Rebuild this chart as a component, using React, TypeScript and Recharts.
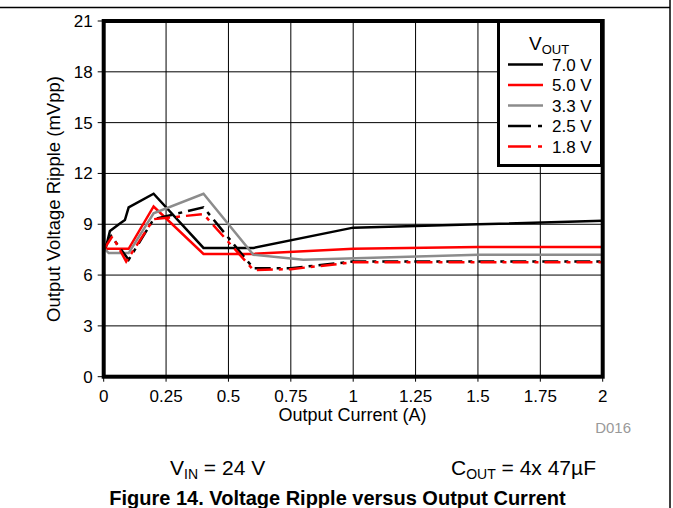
import React from 'react';
import { LineChart, Line, XAxis, YAxis, CartesianGrid, Legend } from 'recharts';

const xTicks = [0, 0.25, 0.5, 0.75, 1, 1.25, 1.5, 1.75, 2];
const yTicks = [0, 3, 6, 9, 12, 15, 18, 21];

const v70 = [
  { x: 0, y: 7.4 }, { x: 0.01, y: 7.7 }, { x: 0.025, y: 8.6 }, { x: 0.065, y: 9.05 },
  { x: 0.085, y: 9.25 }, { x: 0.1, y: 10.0 }, { x: 0.2, y: 10.8 }, { x: 0.4, y: 7.6 },
  { x: 0.6, y: 7.6 }, { x: 1.0, y: 8.8 }, { x: 1.5, y: 9.0 }, { x: 2.0, y: 9.2 },
];
const v50 = [
  { x: 0, y: 7.55 }, { x: 0.1, y: 7.55 }, { x: 0.2, y: 10.05 }, { x: 0.4, y: 7.25 },
  { x: 0.6, y: 7.25 }, { x: 1.0, y: 7.55 }, { x: 1.5, y: 7.65 }, { x: 2.0, y: 7.65 },
];
const v33 = [
  { x: 0, y: 7.6 }, { x: 0.02, y: 7.3 }, { x: 0.1, y: 7.3 }, { x: 0.2, y: 9.65 },
  { x: 0.4, y: 10.8 }, { x: 0.6, y: 7.2 }, { x: 0.8, y: 6.9 }, { x: 1.5, y: 7.2 }, { x: 2.0, y: 7.2 },
];
const v25 = [
  { x: 0, y: 7.5 }, { x: 0.03, y: 8.3 }, { x: 0.1, y: 6.9 }, { x: 0.2, y: 9.3 },
  { x: 0.4, y: 10.0 }, { x: 0.6, y: 6.4 }, { x: 0.75, y: 6.4 }, { x: 1.0, y: 6.8 },
  { x: 1.5, y: 6.8 }, { x: 2.0, y: 6.8 },
];
const v18 = [
  { x: 0, y: 7.5 }, { x: 0.035, y: 8.3 }, { x: 0.09, y: 6.8 }, { x: 0.2, y: 9.3 },
  { x: 0.4, y: 9.6 }, { x: 0.6, y: 6.3 }, { x: 0.75, y: 6.35 }, { x: 1.0, y: 6.75 },
  { x: 1.5, y: 6.75 }, { x: 2.0, y: 6.75 },
];

const seriesNames = ['7.0 V', '5.0 V', '3.3 V', '2.5 V', '1.8 V'];
const seriesData = [v70, v50, v33, v25, v18];
const seriesColors = ['#000000', '#ff0000', '#8c8c8c', '#000000', '#ff0000'];
const seriesDash = [undefined, undefined, undefined, '16 6 4 6', '16 6 4 6'];
const legendDash = [undefined, undefined, undefined, '23 7 4 20', '23 7 4 20'];

const FONT = '"Liberation Sans", Arial, Helvetica, sans-serif';
const TICKLINE = { stroke: '#000', strokeWidth: 1 };

// plot frame geometry (chart margins + axis sizes)
const PLOT_LEFT = 103.7;
const PLOT_TOP = 21;
const PLOT_W = 499;
const PLOT_H = 355.7;

const LegendBox = () => (
  <div style={{ width: 106, height: 147, boxSizing: 'border-box', border: '3px solid #000', background: '#fff' }}>
    <svg width={100} height={141} style={{ display: 'block' }}>
      <text x={29} y={27} fontFamily={FONT} fontSize={19} fill="#000">
        V<tspan fontSize={13} dy={4}>OUT</tspan>
      </text>
      {seriesNames.map((n, i) => {
        const cy = 41.5 + i * 20.5;
        return (
          <g key={n}>
            <line x1={8} x2={43} y1={cy} y2={cy} stroke={seriesColors[i]} strokeWidth={2.5} strokeDasharray={legendDash[i]} />
            <text x={52} y={cy + 6} fontFamily={FONT} fontSize={17} fill="#000">{n}</text>
          </g>
        );
      })}
    </svg>
  </div>
);

export default function App() {
  return (
    <div style={{ position: 'absolute', left: 0, top: 0, width: 673, height: 508 }}>
      <LineChart
        width={673}
        height={508}
        margin={{ top: PLOT_TOP, right: 673 - PLOT_LEFT - PLOT_W, bottom: 508 - PLOT_TOP - PLOT_H - 30, left: PLOT_LEFT - 40 }}
        style={{ fontFamily: FONT }}
      >
        <CartesianGrid stroke="#000" strokeWidth={1} horizontalValues={yTicks} verticalValues={xTicks} />
        <XAxis
          type="number"
          dataKey="x"
          domain={[0, 2]}
          ticks={xTicks}
          height={30}
          axisLine={false}
          tickSize={5}
          tickMargin={8}
          tickLine={TICKLINE}
          tick={{ fill: '#000', fontSize: 17, fontFamily: FONT }}
          allowDataOverflow
        />
        <YAxis
          type="number"
          dataKey="y"
          domain={[0, 21]}
          ticks={yTicks}
          width={40}
          axisLine={false}
          tickSize={6}
          tickMargin={5}
          tickLine={TICKLINE}
          tick={{ fill: '#000', fontSize: 17, fontFamily: FONT }}
          allowDataOverflow
        />
        {seriesData.map((d, i) => (
          <Line
            key={seriesNames[i]}
            data={d}
            dataKey="y"
            name={seriesNames[i]}
            type="linear"
            stroke={seriesColors[i]}
            strokeWidth={2.5}
            strokeDasharray={seriesDash[i]}
            dot={false}
            activeDot={false}
            isAnimationActive={false}
          />
        ))}
        <Legend
          layout="vertical"
          align="center"
          verticalAlign="middle"
          content={() => <LegendBox />}
          wrapperStyle={{ position: 'absolute', left: 497, top: 20, width: 106, height: 147 }}
        />
      </LineChart>
      <svg width={673} height={508} style={{ position: 'absolute', left: 0, top: 0, pointerEvents: 'none' }}>
        <rect x={PLOT_LEFT} y={PLOT_TOP} width={PLOT_W} height={PLOT_H} fill="none" stroke="#000" strokeWidth={4} />
        <line x1={0} x2={670} y1={7.5} y2={7.5} stroke="#000" strokeWidth={1.5} />
        <line x1={670} x2={670} y1={0} y2={508} stroke="#000" strokeWidth={1.5} />
        <text x={352.5} y={421} textAnchor="middle" fontFamily={FONT} fontSize={18} fill="#000">Output Current (A)</text>
        <text transform="translate(60,199) rotate(-90)" textAnchor="middle" fontFamily={FONT} fontSize={18.5} fill="#000">Output Voltage Ripple (mVpp)</text>
        <text x={631} y={433} textAnchor="end" fontFamily={FONT} fontSize={15} fill="#999">D016</text>
        <text x={170} y={475} fontFamily={FONT} fontSize={21} fill="#000">
          V<tspan fontSize={14} dy={4}>IN</tspan><tspan dy={-4}> = 24 V</tspan>
        </text>
        <text x={451} y={475} fontFamily={FONT} fontSize={21} fill="#000">
          C<tspan fontSize={14} dy={4}>OUT</tspan><tspan dy={-4}> = 4x 47µF</tspan>
        </text>
        <text x={337.5} y={505} textAnchor="middle" fontFamily={FONT} fontSize={20} fontWeight="bold" fill="#000">Figure 14. Voltage Ripple versus Output Current</text>
      </svg>
    </div>
  );
}
